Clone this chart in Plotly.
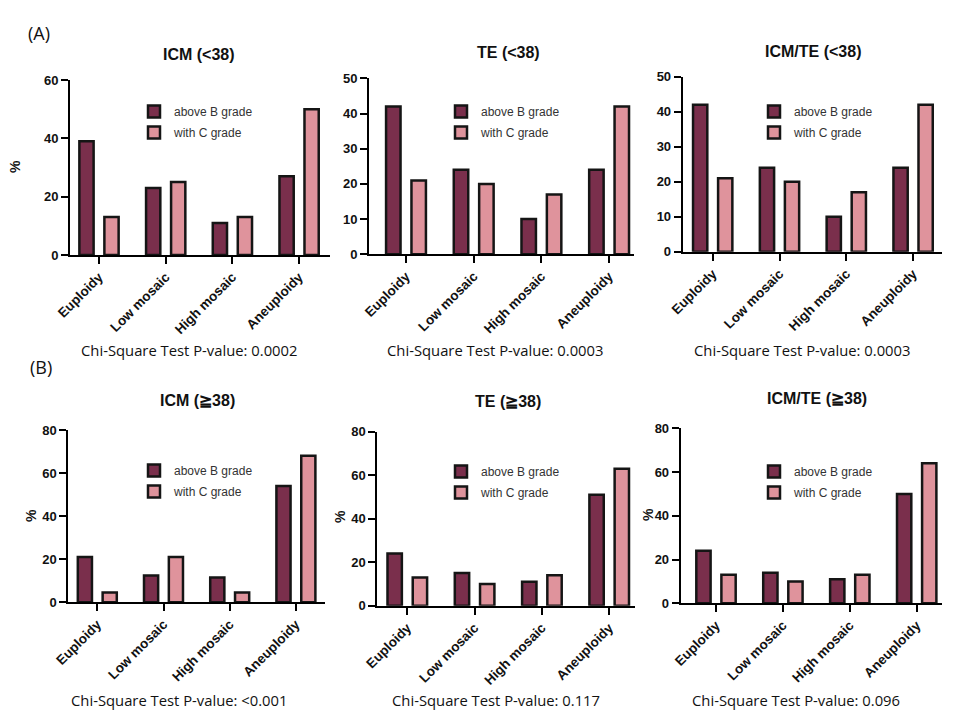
import plotly.graph_objects as go

# ---------------- data ----------------
categories = ["Euploidy", "Low mosaic", "High mosaic", "Aneuploidy"]
series_names = ["above B grade", "with C grade"]

icm_lt38_above = [39, 23, 11, 27]
icm_lt38_c = [13, 25, 13, 50]
te_lt38_above = [42, 24, 10, 24]
te_lt38_c = [21, 20, 17, 42]
icmte_lt38_above = [42, 24, 10, 24]
icmte_lt38_c = [21, 20, 17, 42]
icm_ge38_above = [21, 12.5, 11.5, 54]
icm_ge38_c = [4.5, 21, 4.5, 68]
te_ge38_above = [24, 15, 11, 51]
te_ge38_c = [13, 10, 14, 63]
icmte_ge38_above = [24, 14, 11, 50]
icmte_ge38_c = [13, 10, 13, 64]

panel_titles = ["ICM (<38)", "TE (<38)", "ICM/TE (<38)",
                "ICM (≧38)", "TE (≧38)", "ICM/TE (≧38)"]
p_value_texts = ["Chi-Square Test P-value: 0.0002",
                 "Chi-Square Test P-value: 0.0003",
                 "Chi-Square Test P-value: 0.0003",
                 "Chi-Square Test P-value: <0.001",
                 "Chi-Square Test P-value: 0.117",
                 "Chi-Square Test P-value: 0.096"]
y_max = [60, 50, 50, 80, 80, 80]
y_dtick = [20, 10, 10, 20, 20, 20]
show_percent = [True, False, False, True, True, True]
section_labels = ["(A)", "(B)"]

series_data = [
    (icm_lt38_above, icm_lt38_c),
    (te_lt38_above, te_lt38_c),
    (icmte_lt38_above, icmte_lt38_c),
    (icm_ge38_above, icm_ge38_c),
    (te_ge38_above, te_ge38_c),
    (icmte_ge38_above, icmte_ge38_c),
]

# ---------------- layout geometry (pixels) ----------------
W, H = 958, 719


def fx(x):
    return x / W


def fy(y):
    return 1 - y / H


# x0, x1 (axis px), ytop, ybot (px), first category center px, category unit px
geom = [
    dict(x0=70, x1=330, yt=80, yb=255, c0=99, u=66.7, leg=(134, 97), title=(199, 55), pv=(189, 350), pct=(15, 167)),
    dict(x0=369, x1=634, yt=78.3, yb=254.3, c0=406, u=67.7, leg=(441, 97), title=(508, 53), pv=(496, 350), pct=None),
    dict(x0=682.7, x1=942, yt=76.7, yb=251.7, c0=712.7, u=66.8, leg=(754, 97), title=(813, 52), pv=(802, 350), pct=None),
    dict(x0=68.3, x1=325, yt=430, yb=602.3, c0=97.3, u=66.2, leg=(134, 456), title=(197, 400), pv=(179, 700), pct=(31, 515)),
    dict(x0=377.3, x1=635, yt=431.7, yb=605.7, c0=407.3, u=67.3, leg=(441, 457), title=(508, 402), pv=(496, 700), pct=(340, 517)),
    dict(x0=680.7, x1=942, yt=428.3, yb=603.3, c0=716, u=66.9, leg=(754, 457), title=(817, 398), pv=(796, 700), pct=(648, 515)),
]

DARK = "#7a2f4c"
PINK = "#df939c"
colors = [DARK, PINK]
FONT = "Liberation Sans, Arial, sans-serif"
TXT = "Open Sans, Noto Sans, sans-serif"

fig = go.Figure()
layout = dict(
    width=W, height=H,
    margin=dict(l=0, r=0, t=0, b=0, autoexpand=False),
    paper_bgcolor="white", plot_bgcolor="white",
    barmode="group", bargap=0.25, bargroupgap=0.43,
    font=dict(family=FONT, color="#111"),
)
annotations = []

for i, (g, data) in enumerate(zip(geom, series_data)):
    k = i + 1
    xa = "x" if k == 1 else f"x{k}"
    ya = "y" if k == 1 else f"y{k}"
    lg = "legend" if k == 1 else f"legend{k}"
    for s, (name, vals) in enumerate(zip(series_names, data)):
        fig.add_trace(go.Bar(
            x=categories, y=vals, name=name,
            marker=dict(color=colors[s], line=dict(color="#151515", width=2.5)),
            xaxis=xa, yaxis=ya, legend=lg, showlegend=True,
            legendgroup=f"p{k}s{s}",
        ))
    left = (g["x0"] - g["c0"]) / g["u"]
    right = (g["x1"] - g["c0"]) / g["u"]
    layout["xaxis" if k == 1 else f"xaxis{k}"] = dict(
        domain=[fx(g["x0"]), fx(g["x1"])], anchor=ya, range=[left, right],
        type="category", showline=True, linecolor="black", linewidth=2,
        ticks="outside", ticklen=7, tickwidth=2, tickcolor="black",
        tickangle=-45, tickfont=dict(family=FONT, size=13.5, color="#111", weight="bold"),
        showgrid=False, zeroline=False, fixedrange=True, automargin=False,
    )
    layout["yaxis" if k == 1 else f"yaxis{k}"] = dict(
        domain=[fy(g["yb"]), fy(g["yt"])], anchor=xa, range=[0, y_max[i]],
        dtick=y_dtick[i], tick0=0, showline=True, linecolor="black", linewidth=2,
        ticks="outside", ticklen=7, tickwidth=2, tickcolor="black",
        tickfont=dict(family=FONT, size=13, color="#111", weight="bold"),
        showgrid=False, zeroline=False, fixedrange=True, automargin=False,
    )
    layout[lg] = dict(
        x=fx(g["leg"][0]), y=fy(g["leg"][1]), xanchor="left", yanchor="top",
        bgcolor="rgba(0,0,0,0)", borderwidth=0, tracegroupgap=2,
        font=dict(family=FONT, size=12, color="#333"), traceorder="grouped",
    )
    annotations.append(dict(
        text=panel_titles[i], x=fx(g["title"][0]), y=fy(g["title"][1]),
        xref="paper", yref="paper", xanchor="center", yanchor="middle",
        showarrow=False, font=dict(family=FONT, size=16, color="#111", weight="bold"),
    ))
    annotations.append(dict(
        text=p_value_texts[i], x=fx(g["pv"][0]), y=fy(g["pv"][1]),
        xref="paper", yref="paper", xanchor="center", yanchor="middle",
        showarrow=False, font=dict(family=TXT, size=14.8, color="#111"),
    ))
    if show_percent[i]:
        annotations.append(dict(
            text="%", x=fx(g["pct"][0]), y=fy(g["pct"][1]), textangle=-90,
            xref="paper", yref="paper", xanchor="center", yanchor="middle",
            showarrow=False, font=dict(family=FONT, size=14, color="#111", weight="bold"),
        ))

for lab, (lx, ly) in zip(section_labels, [(26, 33), (28, 367)]):
    annotations.append(dict(
        text=lab, x=fx(lx), y=fy(ly), xref="paper", yref="paper",
        xanchor="left", yanchor="middle", showarrow=False,
        font=dict(family=TXT, size=18, color="#111"),
    ))

layout["annotations"] = annotations
fig.update_layout(**layout)
fig.write_html("out.html",
               post_script="document.body.style.margin='0';document.body.style.padding='0';")
